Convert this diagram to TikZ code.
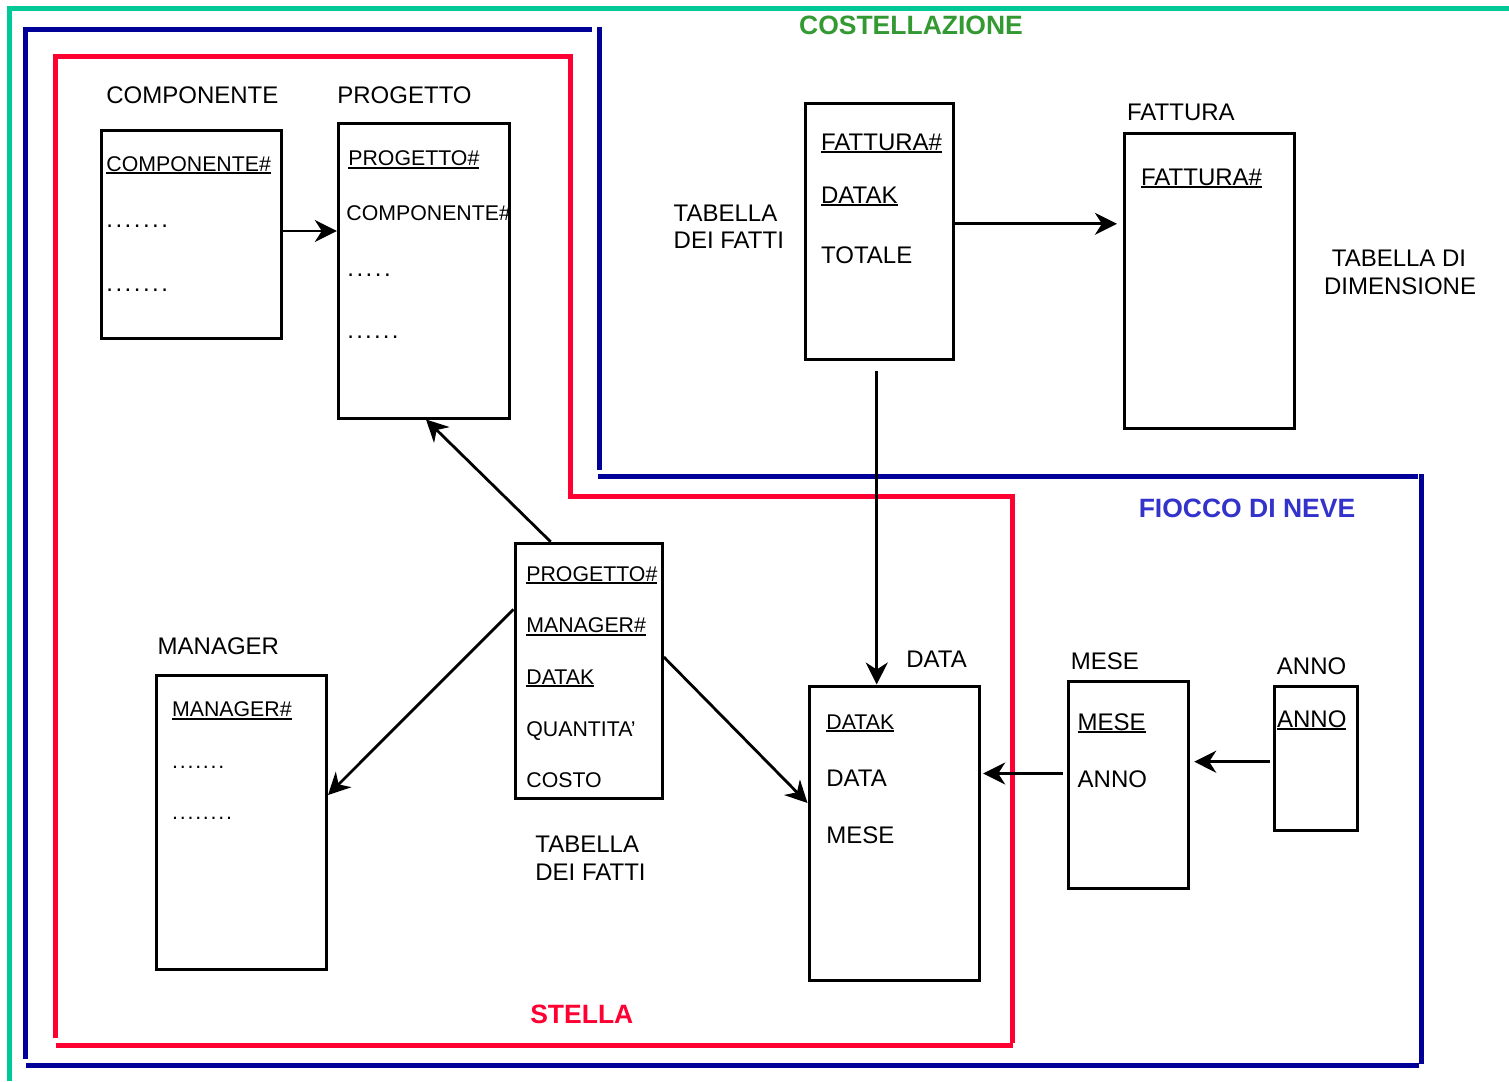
\documentclass[tikz,border=0pt]{standalone}
\usepackage{fontspec}
\setmainfont{Liberation Sans}
\usetikzlibrary{arrows.meta,fit}

\definecolor{costgreen}{HTML}{00C896}
\definecolor{costtext}{HTML}{339933}
\definecolor{snowblue}{HTML}{000099}
\definecolor{snowtext}{HTML}{3333CC}
\definecolor{starred}{HTML}{FF0033}

% key attribute: text with a solid underline
\newsavebox\keybox
\newcommand\keyfield[1]{\sbox\keybox{#1}\rlap{\rule[-1.5pt]{\wd\keybox}{1pt}}\usebox\keybox}
% a row of evenly spaced dots
\newcommand\dotrow[2]{.\foreach \k in {2,...,#1}{\hspace{#2}.}}

\tikzset{
  x=0.5pt, y=-0.5pt,
  frame/.style={line width=2.5pt},
  tbl/.style={draw, line width=1.5pt, inner sep=0pt},
  lbl/.style={anchor=base west, inner sep=0pt, font=\fontsize{12pt}{14pt}\selectfont},
  lblc/.style={anchor=base, inner sep=0pt, font=\fontsize{12pt}{14pt}\selectfont},
  fld/.style={anchor=base west, inner sep=0pt, font=\fontsize{10.65pt}{12pt}\selectfont},
  schema/.style={anchor=base, inner sep=0pt, font=\bfseries\fontsize{13.25pt}{15pt}\selectfont},
  link/.style={line width=1.4pt, -{Stealth[length=11pt, width=11pt, inset=3.5pt]}}
}

\begin{document}
\begin{tikzpicture}
\useasboundingbox (0,0) rectangle (1509,1081);
\fill[white] (0,0) rectangle (1509,1081);

% --- schema frames ---
\draw[costgreen, frame] (1509,8.5) -- (9,8.5) -- (9,1081);
\draw[snowblue, frame] (25.5,1059) -- (25.5,29.8) -- (592,29.8);
\draw[snowblue, frame] (599.7,27.5) -- (599.7,470);
\draw[snowblue, frame] (598,476) -- (1418,476);
\draw[snowblue, frame] (1421.8,474) -- (1421.8,1064);
\draw[snowblue, frame] (1419,1065) -- (26,1065);
\draw[starred, frame] (55.3,1038) -- (55.3,56.5) -- (570.5,56.5) -- (570.5,496.7)
  -- (1012,496.7) -- (1012,1042.7);
\draw[starred, frame] (1013,1045) -- (56,1045);

\node[schema, text=costtext] (tcost) at (911,34.3) {COSTELLAZIONE};
\node[schema, text=snowtext] (tsnow) at (1247,517) {FIOCCO DI NEVE};
\node[schema, text=starred] (tstar) at (581.8,1023.3) {STELLA};

% --- tables ---
\node[tbl, fit={(101.7,131) (281,338.3)}] (comp) {};
\node[tbl, fit={(338.3,124) (509.3,418)}] (prog) {};
\node[tbl, fit={(515,543.3) (662.3,798.3)}] (fact1) {};
\node[tbl, fit={(156.7,675) (326.5,969)}] (mgr) {};
\node[tbl, fit={(809,686) (979.3,980)}] (data) {};
\node[tbl, fit={(1068.3,681.7) (1188.3,888.3)}] (mese) {};
\node[tbl, fit={(1274,686) (1357.7,830.7)}] (anno) {};
\node[tbl, fit={(805.7,104) (953.3,359.3)}] (fact2) {};
\node[tbl, fit={(1124,133.3) (1294.3,428)}] (fatt) {};

% --- table titles ---
\node[lbl] (lcomp) at (106,104) {COMPONENTE};
\node[lbl] (lprog) at (337,104) {PROGETTO};
\node[lbl] (lmgr) at (157.3,654) {MANAGER};
\node[lbl] (ldata) at (906,667) {DATA};
\node[lbl] (lmese) at (1070.5,669) {MESE};
\node[lbl] (lanno) at (1276.5,674) {ANNO};
\node[lbl] (lfatt) at (1126.7,120.7) {FATTURA};
\node[lbl] (lfa1) at (673.3,221) {TABELLA};
\node[lbl] (lfa2) at (673.3,248) {DEI FATTI};
\node[lblc] (ldim1) at (1399,266) {TABELLA DI};
\node[lblc] (ldim2) at (1400,294) {DIMENSIONE};
\node[lbl] (lfb1) at (535,852) {TABELLA};
\node[lbl] (lfb2) at (535,880.7) {DEI FATTI};

% --- fields ---
\node[fld] (c1) at (106,171) {\keyfield{COMPONENTE\#}};
\node[lbl] (c2) at (106,227) {\dotrow{7}{1.25pt}};
\node[lbl] (c3) at (106,291) {\dotrow{7}{1.25pt}};

\node[fld] (p1) at (348,165.5) {\keyfield{PROGETTO\#}};
\node[fld] (p2) at (346,220) {COMPONENTE\#};
\node[lbl] (p3) at (347,276) {\dotrow{5}{1.25pt}};
\node[lbl] (p4) at (347,338) {\dotrow{6}{1.1pt}};

\node[fld] (f1) at (526,581) {\keyfield{PROGETTO\#}};
\node[fld] (f2) at (526,632.5) {\keyfield{MANAGER\#}};
\node[fld] (f3) at (526,684) {\keyfield{DATAK}};
\node[fld] (f4) at (526,736) {QUANTITA’};
\node[fld] (f5) at (526,787) {COSTO};

\node[fld] (m1) at (171.7,716.7) {\keyfield{MANAGER\#}};
\node[fld] (m2) at (171.7,768) {\dotrow{7}{0.9pt}};
\node[fld] (m3) at (171.7,819.5) {\dotrow{8}{0.9pt}};

\node[fld] (d1) at (826,729) {\keyfield{DATAK}};
\node[lbl] (d2) at (826,786) {DATA};
\node[lbl] (d3) at (826,843.5) {MESE};

\node[lbl] (s1) at (1077.3,730) {\keyfield{MESE}};
\node[lbl] (s2) at (1077.3,787) {ANNO};

\node[lbl] (a1) at (1276.7,727) {\keyfield{ANNO}};

\node[lbl] (g1) at (820.7,150) {\keyfield{FATTURA\#}};
\node[lbl] (g2) at (820.7,203.3) {\keyfield{DATAK}};
\node[lbl] (g3) at (820.7,263) {TOTALE};

\node[lbl] (h1) at (1140.7,185) {\keyfield{FATTURA\#}};

% --- connectors ---
\draw[link] (comp.east |- 0,231) -- (prog.west |- 0,231);
\draw[link] (fact1.north -| 550.7,0) -- (prog.south -| 426,0);
\draw[link] (fact1.west |- 0,609.3) -- (mgr.east |- 0,795);
\draw[link] (fact1.east |- 0,657) -- (data.west |- 0,803);
\draw[link, shorten <=5pt] (fact2.south -| 876.7,0) -- (data.north -| 876.7,0);
\draw[link, shorten >=2.8pt] (fact2.east |- 0,223.8) -- (fatt.west |- 0,223.8);
\draw[link, shorten <=2pt, shorten >=1.2pt] (mese.west |- 0,773.5) -- (data.east |- 0,773.5);
\draw[link, shorten <=1.5pt, shorten >=2.2pt] (anno.west |- 0,761.7) -- (mese.east |- 0,761.7);
\end{tikzpicture}
\end{document}
